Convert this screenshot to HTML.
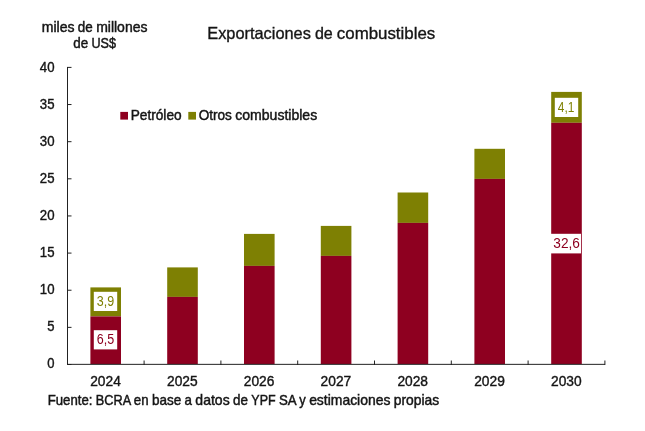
<!DOCTYPE html>
<html lang="es"><head><meta charset="utf-8"><title>Exportaciones de combustibles</title>
<style>
html,body{margin:0;padding:0;background:#fff}
svg{display:block}
text{font-family:"Liberation Sans",Arial,sans-serif;fill:#151515;stroke:#151515;stroke-width:0.38px}
</style></head><body>
<svg width="645" height="431" viewBox="0 0 645 431">
<rect width="645" height="431" fill="#fff"/>
<text id="title" y="39.3" font-size="16.92" style="stroke-width:0.35px"><tspan x="207.25" textLength="103.62" lengthAdjust="spacingAndGlyphs">Exportaciones</tspan> <tspan x="314.92" textLength="17.88" lengthAdjust="spacingAndGlyphs">de</tspan> <tspan x="336.85" textLength="98.37" lengthAdjust="spacingAndGlyphs">combustibles</tspan></text>
<text id="yl1" y="31.6" font-size="14.10" style="stroke-width:0.46px"><tspan x="41.70" textLength="32.79" lengthAdjust="spacingAndGlyphs">miles</tspan> <tspan x="77.86" textLength="14.90" lengthAdjust="spacingAndGlyphs">de</tspan> <tspan x="96.13" textLength="51.37" lengthAdjust="spacingAndGlyphs">millones</tspan></text>
<text id="yl2" y="48.3" font-size="14.10" style="stroke-width:0.46px"><tspan x="73.19" textLength="14.90" lengthAdjust="spacingAndGlyphs">de</tspan> <tspan x="91.45" textLength="24.56" lengthAdjust="spacingAndGlyphs">US$</tspan></text>
<text id="leg1" y="119.5" font-size="14.10" style="stroke-width:0.46px"><tspan x="130.70" textLength="50.92" lengthAdjust="spacingAndGlyphs">Petróleo</tspan></text>
<text id="leg2" y="119.5" font-size="14.10" style="stroke-width:0.46px"><tspan x="198.70" textLength="33.21" lengthAdjust="spacingAndGlyphs">Otros</tspan> <tspan x="235.28" textLength="81.95" lengthAdjust="spacingAndGlyphs">combustibles</tspan></text>
<text id="src" y="404.6" font-size="14.10" style="stroke-width:0.46px"><tspan x="47.70" textLength="44.73" lengthAdjust="spacingAndGlyphs">Fuente:</tspan> <tspan x="95.80" textLength="34.62" lengthAdjust="spacingAndGlyphs">BCRA</tspan> <tspan x="133.79" textLength="14.73" lengthAdjust="spacingAndGlyphs">en</tspan> <tspan x="151.89" textLength="29.29" lengthAdjust="spacingAndGlyphs">base</tspan> <tspan x="184.55" textLength="7.41" lengthAdjust="spacingAndGlyphs">a</tspan> <tspan x="195.33" textLength="34.33" lengthAdjust="spacingAndGlyphs">datos</tspan> <tspan x="233.03" textLength="14.90" lengthAdjust="spacingAndGlyphs">de</tspan> <tspan x="251.30" textLength="24.30" lengthAdjust="spacingAndGlyphs">YPF</tspan> <tspan x="278.97" textLength="16.97" lengthAdjust="spacingAndGlyphs">SA</tspan> <tspan x="299.31" textLength="6.44" lengthAdjust="spacingAndGlyphs">y</tspan> <tspan x="309.13" textLength="81.29" lengthAdjust="spacingAndGlyphs">estimaciones</tspan> <tspan x="393.79" textLength="45.40" lengthAdjust="spacingAndGlyphs">propias</tspan></text>
<rect x="90.40" y="287.4" width="30.6" height="29.00" fill="#7E8003"/>
<rect x="90.40" y="316.4" width="30.6" height="47.60" fill="#8E0020"/>
<rect x="167.20" y="267.4" width="30.6" height="29.50" fill="#7E8003"/>
<rect x="167.20" y="296.9" width="30.6" height="67.10" fill="#8E0020"/>
<rect x="244.00" y="233.9" width="30.6" height="32.00" fill="#7E8003"/>
<rect x="244.00" y="265.9" width="30.6" height="98.10" fill="#8E0020"/>
<rect x="320.80" y="225.9" width="30.6" height="30.00" fill="#7E8003"/>
<rect x="320.80" y="255.9" width="30.6" height="108.10" fill="#8E0020"/>
<rect x="397.60" y="192.5" width="30.6" height="30.40" fill="#7E8003"/>
<rect x="397.60" y="222.9" width="30.6" height="141.10" fill="#8E0020"/>
<rect x="474.40" y="148.8" width="30.6" height="30.10" fill="#7E8003"/>
<rect x="474.40" y="178.9" width="30.6" height="185.10" fill="#8E0020"/>
<rect x="551.20" y="91.9" width="30.6" height="30.90" fill="#7E8003"/>
<rect x="551.20" y="122.8" width="30.6" height="241.20" fill="#8E0020"/>
<g stroke="#222" stroke-width="1" fill="none" shape-rendering="crispEdges">
<path d="M67.5 67 V365"/>
<path d="M67 364.35 H605" shape-rendering="auto"/>
<path d="M67 67.40 H71.5" shape-rendering="auto"/>
<path d="M67 104.54 H71.5" shape-rendering="auto"/>
<path d="M67 141.68 H71.5" shape-rendering="auto"/>
<path d="M67 178.81 H71.5" shape-rendering="auto"/>
<path d="M67 215.95 H71.5" shape-rendering="auto"/>
<path d="M67 253.09 H71.5" shape-rendering="auto"/>
<path d="M67 290.23 H71.5" shape-rendering="auto"/>
<path d="M67 327.36 H71.5" shape-rendering="auto"/>
<path d="M67 364.50 H71.5" shape-rendering="auto"/>
<path d="M144.10 365 V360.5" shape-rendering="auto"/>
<path d="M220.90 365 V360.5" shape-rendering="auto"/>
<path d="M297.70 365 V360.5" shape-rendering="auto"/>
<path d="M374.50 365 V360.5" shape-rendering="auto"/>
<path d="M451.30 365 V360.5" shape-rendering="auto"/>
<path d="M528.10 365 V360.5" shape-rendering="auto"/>
<path d="M604.90 365 V360.5" shape-rendering="auto"/>
</g>
<text x="54.5" y="71.7" font-size="13.8" text-anchor="end" textLength="14.7" lengthAdjust="spacingAndGlyphs">40</text>
<text x="54.5" y="108.7" font-size="13.8" text-anchor="end" textLength="14.7" lengthAdjust="spacingAndGlyphs">35</text>
<text x="54.5" y="145.8" font-size="13.8" text-anchor="end" textLength="14.7" lengthAdjust="spacingAndGlyphs">30</text>
<text x="54.5" y="182.8" font-size="13.8" text-anchor="end" textLength="14.7" lengthAdjust="spacingAndGlyphs">25</text>
<text x="54.5" y="219.8" font-size="13.8" text-anchor="end" textLength="14.7" lengthAdjust="spacingAndGlyphs">20</text>
<text x="54.5" y="256.9" font-size="13.8" text-anchor="end" textLength="14.7" lengthAdjust="spacingAndGlyphs">15</text>
<text x="54.5" y="293.9" font-size="13.8" text-anchor="end" textLength="14.7" lengthAdjust="spacingAndGlyphs">10</text>
<text x="54.5" y="330.9" font-size="13.8" text-anchor="end" textLength="7.25" lengthAdjust="spacingAndGlyphs">5</text>
<text x="54.5" y="367.9" font-size="13.8" text-anchor="end" textLength="7.25" lengthAdjust="spacingAndGlyphs">0</text>
<text x="105.5" y="385.6" font-size="13.8" text-anchor="middle" textLength="30.6" lengthAdjust="spacingAndGlyphs">2024</text>
<text x="182.3" y="385.6" font-size="13.8" text-anchor="middle" textLength="30.6" lengthAdjust="spacingAndGlyphs">2025</text>
<text x="259.1" y="385.6" font-size="13.8" text-anchor="middle" textLength="30.6" lengthAdjust="spacingAndGlyphs">2026</text>
<text x="335.9" y="385.6" font-size="13.8" text-anchor="middle" textLength="30.6" lengthAdjust="spacingAndGlyphs">2027</text>
<text x="412.7" y="385.6" font-size="13.8" text-anchor="middle" textLength="30.6" lengthAdjust="spacingAndGlyphs">2028</text>
<text x="489.5" y="385.6" font-size="13.8" text-anchor="middle" textLength="30.6" lengthAdjust="spacingAndGlyphs">2029</text>
<text x="566.3" y="385.6" font-size="13.8" text-anchor="middle" textLength="30.6" lengthAdjust="spacingAndGlyphs">2030</text>
<rect x="120.3" y="111.9" width="7.7" height="7.7" fill="#8E0020"/>
<rect x="188.3" y="111.9" width="7.7" height="7.7" fill="#7E8003"/>
<rect x="93.8" y="291.8" width="23.4" height="19.2" fill="#fff"/>
<text x="105.5" y="305.8" font-size="13.8" text-anchor="middle" textLength="17.4" lengthAdjust="spacingAndGlyphs" style="fill:#7E8003;stroke:none">3,9</text>
<rect x="93.8" y="330.2" width="23.4" height="19.2" fill="#fff"/>
<text x="105.5" y="344.2" font-size="13.8" text-anchor="middle" textLength="17.4" lengthAdjust="spacingAndGlyphs" style="fill:#8E0020;stroke:none">6,5</text>
<rect x="554.8" y="97.8" width="23.4" height="19.2" fill="#fff"/>
<text x="566.1" y="111.8" font-size="13.8" text-anchor="middle" textLength="16.6" lengthAdjust="spacingAndGlyphs" style="fill:#7E8003;stroke:none">4,1</text>
<rect x="550.6" y="233.8" width="30.4" height="19.6" fill="#fff"/>
<text x="566.6" y="248.0" font-size="13.8" text-anchor="middle" textLength="26.6" lengthAdjust="spacingAndGlyphs" style="fill:#8E0020;stroke:none">32,6</text>
</svg></body></html>
